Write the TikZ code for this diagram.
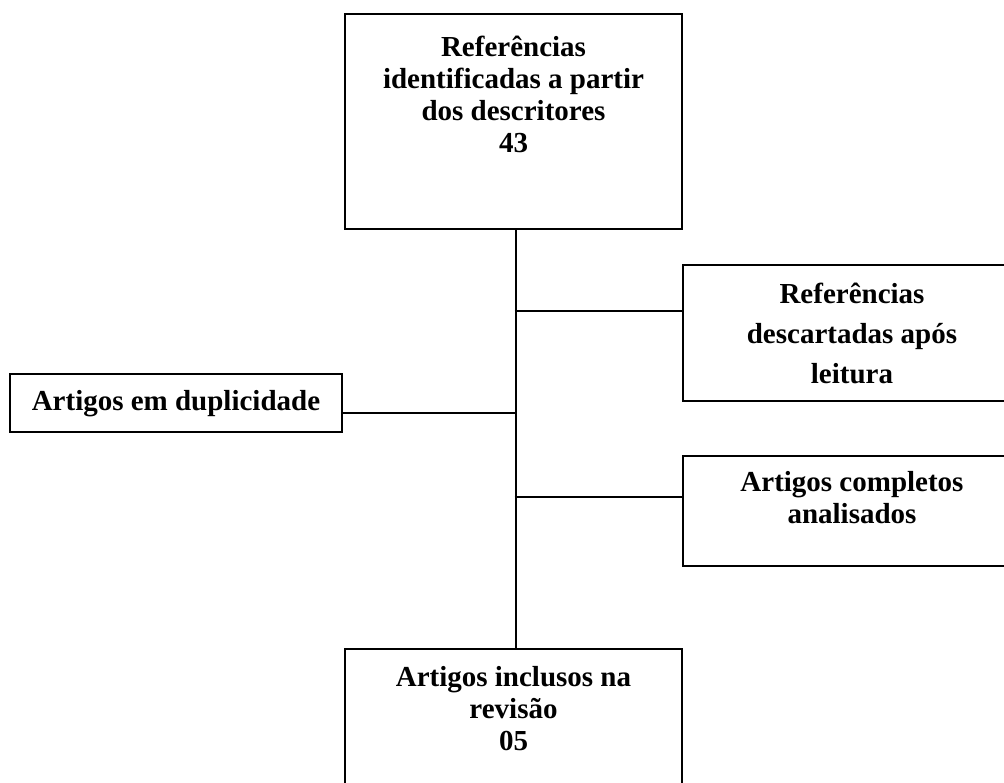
\documentclass[tikz,border=0pt]{standalone}
\usepackage{fontspec}
\setmainfont{Liberation Serif}
\begin{document}
\begin{tikzpicture}[x=1pt,y=-1pt,
  box/.style={draw, line width=2pt, inner sep=0pt, anchor=north west, font=\bfseries},
  conn/.style={line width=2pt}]
\useasboundingbox (0,0) rectangle (1004,783);
\clip (0,0) rectangle (1004,783);
\newcommand{\boxtext}[5]{\begin{minipage}[t][#2pt][t]{#1pt}\centering\fontsize{29}{#4}\selectfont\rule{0pt}{#3pt}#5\end{minipage}}
% boxes
\node[box] (top) at (344,13) {\boxtext{337}{215}{43}{32}{Referências\\identificadas a partir\\dos descritores\\43}};
\node[box] (r1) at (682,264) {\boxtext{338}{136}{39}{40}{Referências\\descartadas após\\leitura}};
\node[box] (left) at (9,373) {\boxtext{332}{58}{36}{32}{Artigos em duplicidade}};
\node[box] (r2) at (682,455) {\boxtext{338}{110}{35}{32}{Artigos completos\\analisados}};
\node[box] (bot) at (344,648) {\boxtext{337}{152}{37}{32}{Artigos inclusos na\\revisão\\05}};
% spine and branches
\coordinate (j1) at (514.5,311);
\coordinate (j2) at (514.5,413);
\coordinate (j3) at (514.5,497);
\draw[conn] ([xshift=2pt]top.south) -- ([xshift=2pt]bot.north);
\draw[conn] (j1) -- (j1 -| r1.west);
\draw[conn] (left.east |- j2) -- (j2);
\draw[conn] (j3) -- (j3 -| r2.west);
\end{tikzpicture}
\end{document}
